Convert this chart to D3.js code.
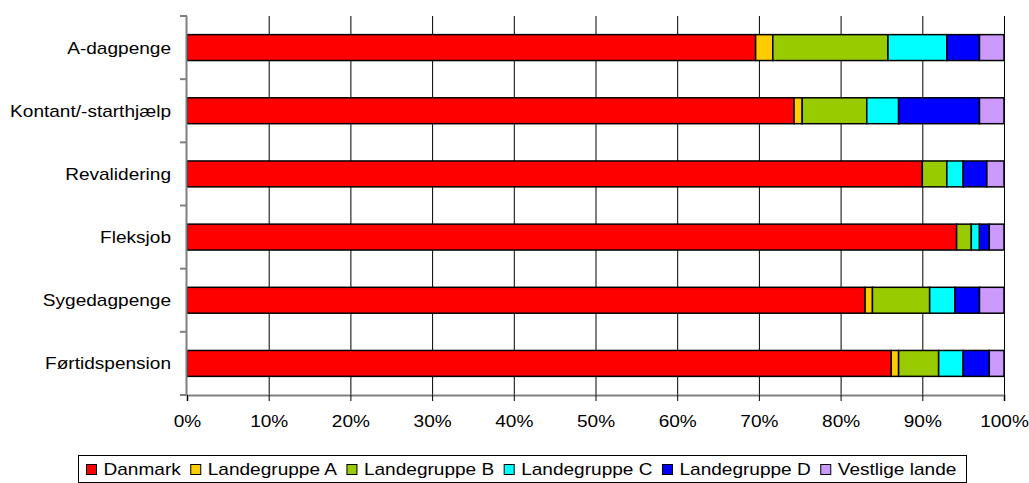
<!DOCTYPE html>
<html><head><meta charset="utf-8">
<script src="https://cdn.jsdelivr.net/npm/d3@7"></script>
<style>body{margin:0;background:#fff}svg{display:block;font-family:"Liberation Sans",Arial,sans-serif}</style>
</head><body><svg id="c" width="1029" height="483"></svg>
<script>
const categories = ["A-dagpenge","Kontant/-starthjælp","Revalidering","Fleksjob","Sygedagpenge","Førtidspension"];
const seriesNames = ["Danmark","Landegruppe A","Landegruppe B","Landegruppe C","Landegruppe D","Vestlige lande"];
const danmark      = [69.6, 74.3, 90.0, 94.2, 83.0, 86.2];
const landeA       = [2.1, 1.0, 0.0, 0.0, 0.9, 0.9];
const landeB       = [14.1, 7.9, 3.0, 1.8, 7.0, 4.9];
const landeC       = [7.2, 3.9, 2.0, 1.0, 3.1, 3.0];
const landeD       = [4.0, 9.9, 2.9, 1.2, 3.0, 3.2];
const vestlige     = [3.0, 3.0, 2.1, 1.8, 3.0, 1.8];
const colors = ["#ff0000","#ffcc00","#99cc00","#00ffff","#0000ff","#cc99ff"];
const xTicks = [0,10,20,30,40,50,60,70,80,90,100];

const FS = 17, STRETCH = 1.12;
function stretch(sel){
  sel.each(function(){ const w=this.getComputedTextLength(); this.setAttribute("textLength", (w*STRETCH).toFixed(2)); this.setAttribute("lengthAdjust","spacingAndGlyphs"); });
}

const seriesVals = [danmark, landeA, landeB, landeC, landeD, vestlige];
const rows = categories.map((c,i)=>{const o={cat:c}; seriesNames.forEach((s,j)=>o[s]=seriesVals[j][i]); return o;});
const stack = d3.stack().keys(seriesNames).offset(d3.stackOffsetExpand)(rows);

const svg = d3.select("#c");
const L=187, R=1004, T=16, B=395;
const x = d3.scaleLinear().domain([0,1]).range([L,R]);
const y = d3.scaleBand().domain(categories).range([T,B]).paddingInner(0.59).paddingOuter(0.295);

// gridlines
svg.append("g").selectAll("line").data(xTicks.slice(1)).join("line")
  .attr("x1",d=>x(d/100)+0.5).attr("x2",d=>x(d/100)+0.5).attr("y1",T).attr("y2",B)
  .attr("stroke","#000").attr("stroke-width",1);

// bars
svg.append("g").selectAll("g").data(stack).join("g").attr("fill",(d,i)=>colors[i])
  .selectAll("rect").data(d=>d).join("rect")
  .attr("x",d=>x(d[0])).attr("width",d=>Math.max(0,x(d[1])-x(d[0])))
  .attr("y",d=>y(d.data.cat)).attr("height",y.bandwidth())
  .attr("stroke",d=>(d[1]-d[0])>0?"#000":"none").attr("stroke-width",1.5);

// y axis
const yAxisG = svg.append("g");
yAxisG.append("line").attr("x1",L-0.5).attr("x2",L-0.5).attr("y1",T).attr("y2",B).attr("stroke","#808080").attr("stroke-width",2);
const step = (B-T)/categories.length;
yAxisG.selectAll("line.t").data(d3.range(categories.length+1)).join("line").attr("class","t")
  .attr("x1",L-7).attr("x2",L).attr("y1",i=>T+i*step).attr("y2",i=>T+i*step)
  .attr("stroke","#808080").attr("stroke-width",2);
yAxisG.selectAll("text").data(categories).join("text")
  .attr("x",171).attr("y",d=>y(d)+y.bandwidth()/2).attr("dy","0.35em")
  .attr("text-anchor","end").attr("font-size",FS).attr("fill","#000").text(d=>d).call(stretch);

// x axis
const xa = d3.axisBottom(x).tickValues(xTicks.map(v=>v/100)).tickFormat(d=>Math.round(d*100)+"%").tickSize(6).tickPadding(14);
const xg = svg.append("g").attr("transform",`translate(0,${B})`).call(xa);
xg.select(".domain").attr("stroke","#808080").attr("stroke-width",2);
xg.selectAll(".tick line").attr("stroke","#000");
xg.selectAll("text").attr("font-size",FS).attr("fill","#000").attr("font-family","Liberation Sans, Arial, sans-serif").call(stretch);

// legend
const lg = svg.append("g");
lg.append("rect").attr("x",78.5).attr("y",455.5).attr("width",888).attr("height",27).attr("fill","#fff").attr("stroke","#000");
let cx = 86.5;
seriesNames.forEach((s,i)=>{
  lg.append("rect").attr("x",cx).attr("y",464.5).attr("width",10).attr("height",10).attr("fill",colors[i]).attr("stroke","#000").attr("stroke-width",1);
  const t = lg.append("text").attr("x",cx+17).attr("y",469.5).attr("dy","0.35em").attr("font-size",FS).text(s);
  stretch(t);
  cx += 17 + (+t.attr("textLength")) + 10;
});
</script></body></html>
